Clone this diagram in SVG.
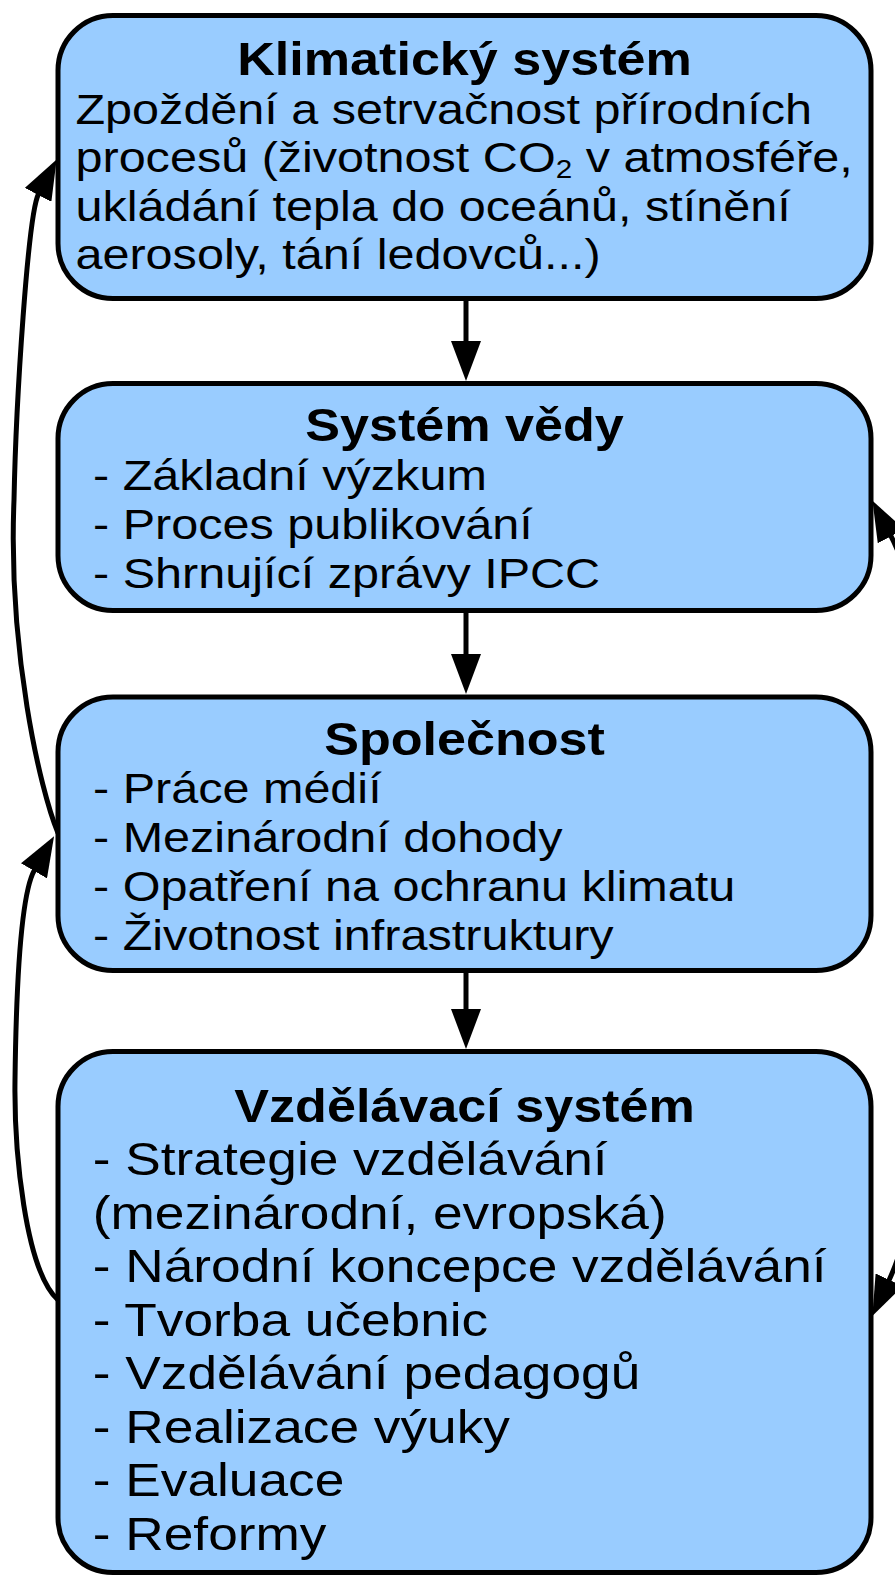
<svg xmlns="http://www.w3.org/2000/svg" width="895" height="1575" viewBox="0 0 895 1575">
  <style>
    .box { fill: #99CCFF; stroke: #000000; stroke-width: 5; }
    .conn { fill: none; stroke: #000000; stroke-width: 5; }
    text { font-family: "Liberation Sans", Arial, sans-serif; fill: #000000; }
    .title { font-weight: bold; font-size: 45.7px; text-anchor: middle; }
    .body { font-size: 42.6px; }
    .body4 { font-size: 46.7px; }
  </style>
  <defs>
    <marker id="ah" viewBox="0 0 40 30" refX="1" refY="15" markerWidth="40" markerHeight="30" markerUnits="userSpaceOnUse" orient="auto-start-reverse">
      <path d="M0,0 L40,15 L0,30 Z" fill="#000000"/>
    </marker>
  </defs>
  <rect width="895" height="1575" fill="#FFFFFF"/>

  <g id="connectors">
    <path class="conn" d="M466,301 V342" marker-end="url(#ah)"/>
    <path class="conn" d="M466,613 V655" marker-end="url(#ah)"/>
    <path class="conn" d="M466,973 V1010" marker-end="url(#ah)"/>
    <path class="conn" d="M58,833 C40,790 8,650 14,500 C16,400 28,214 38.5,194" marker-end="url(#ah)"/>
    <path class="conn" d="M58,1300 C25,1270 14,1150 15,1080 C16,1000 20,895 34.5,870" marker-end="url(#ah)"/>
    <path class="conn" d="M890.6,535.4 C960,668 952,1145 888.8,1280.7" marker-start="url(#ah)" marker-end="url(#ah)"/>
  </g>

  <g id="node-klima">
    <rect class="box" x="58" y="15.5" width="813" height="283" rx="55" ry="55"/>
    <g transform="scale(1.14,1)">
      <text class="title" x="407.5" y="75">Klimatický systém</text>
      <text class="body" x="66.2" y="124">Zpoždění a setrvačnost přírodních</text>
      <text class="body" x="66.2" y="172.5">procesů (životnost CO<tspan font-size="26" dy="6">2</tspan><tspan dy="-6"> v atmosféře,</tspan></text>
      <text class="body" x="66.2" y="221">ukládání tepla do oceánů, stínění</text>
      <text class="body" x="66.2" y="269.5">aerosoly, tání ledovců...)</text>
    </g>
  </g>

  <g id="node-veda">
    <rect class="box" x="58" y="383.5" width="813" height="227" rx="55" ry="55"/>
    <g transform="scale(1.14,1)">
      <text class="title" x="407.5" y="441">Systém vědy</text>
      <text class="body" x="81.6" y="490">- Základní výzkum</text>
      <text class="body" x="81.6" y="539">- Proces publikování</text>
      <text class="body" x="81.6" y="588">- Shrnující zprávy IPCC</text>
    </g>
  </g>

  <g id="node-spolecnost">
    <rect class="box" x="58" y="697" width="813" height="273.5" rx="55" ry="55"/>
    <g transform="scale(1.14,1)">
      <text class="title" x="407.5" y="755">Společnost</text>
      <text class="body" x="81.6" y="803.5">- Práce médií</text>
      <text class="body" x="81.6" y="852">- Mezinárodní dohody</text>
      <text class="body" x="81.6" y="901">- Opatření na ochranu klimatu</text>
      <text class="body" x="81.6" y="950">- Životnost infrastruktury</text>
    </g>
  </g>

  <g id="node-vzdelavani">
    <rect class="box" x="58" y="1051.5" width="813" height="521" rx="55" ry="55"/>
    <g transform="scale(1.14,1)">
      <text class="title" x="407.5" y="1122">Vzdělávací systém</text>
      <text class="body4" x="81.4" y="1175.5">- Strategie vzdělávání</text>
      <text class="body4" x="81.4" y="1229">(mezinárodní, evropská)</text>
      <text class="body4" x="81.4" y="1282.5">- Národní koncepce vzdělávání</text>
      <text class="body4" x="81.4" y="1336">- Tvorba učebnic</text>
      <text class="body4" x="81.4" y="1389.5">- Vzdělávání pedagogů</text>
      <text class="body4" x="81.4" y="1443">- Realizace výuky</text>
      <text class="body4" x="81.4" y="1496.5">- Evaluace</text>
      <text class="body4" x="81.4" y="1550">- Reformy</text>
    </g>
  </g>
</svg>
